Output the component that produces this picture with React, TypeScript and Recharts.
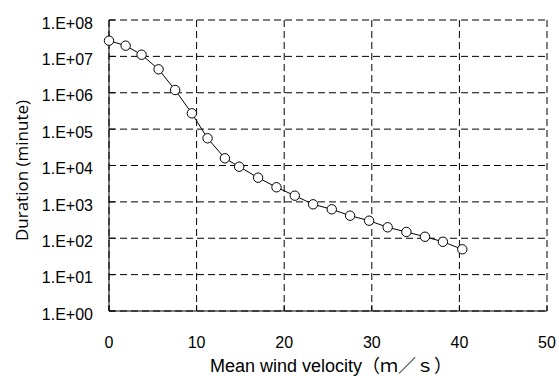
import React from "react";
import { LineChart, Line, XAxis, YAxis, CartesianGrid } from "recharts";

// wind speed (m/s)
const velocity = [
  0, 1.9, 3.72, 5.66, 7.55, 9.46, 11.25, 13.23, 14.86, 17.02, 19.12, 21.21,
  23.3, 25.43, 27.52, 29.69, 31.81, 33.95, 36.07, 38.12, 40.33,
];
// duration (minute)
const duration = [
  2.7e7, 1.97e7, 1.11e7, 4.41e6, 1.19e6, 2.72e5, 5.6e4, 1.58e4, 9270, 4620,
  2520, 1480, 857, 625, 417, 304, 200, 149, 110, 80, 49.7,
];

const xTicks = [0, 10, 20, 30, 40, 50];
const yTicks = [1, 10, 100, 1e3, 1e4, 1e5, 1e6, 1e7, 1e8];
const yTickLabels = [
  "1.E+00",
  "1.E+01",
  "1.E+02",
  "1.E+03",
  "1.E+04",
  "1.E+05",
  "1.E+06",
  "1.E+07",
  "1.E+08",
];

const data = velocity.map((v, i) => ({ v, d: duration[i] }));

const FONT = "'Liberation Sans', Arial, sans-serif";

export default function App() {
  return (
    <div style={{ position: "absolute", left: 0, top: 0, background: "#fff" }}>
      <LineChart
        width={559}
        height={376}
        data={data}
        margin={{ top: 20, right: 12, left: 10, bottom: 0 }}
      >
        <CartesianGrid
          stroke="#000"
          strokeWidth={1}
          strokeDasharray="7 4"
          horizontalValues={yTicks}
          verticalValues={xTicks}
        />
        <XAxis
          dataKey="v"
          type="number"
          domain={[0, 50]}
          ticks={xTicks}
          height={65}
          stroke="#000"
          tickSize={-6}
          tickMargin={32}
          tick={{ fill: "#000", fontSize: 16, fontFamily: FONT }}
          label={{
            content: ({ viewBox }: any) => (
              <text
                x={viewBox.x + viewBox.width / 2 + 3}
                y={viewBox.y + 61}
                textAnchor="middle"
                fill="#000"
                fontSize={18}
                fontFamily={`${FONT}, 'Noto Sans CJK JP'`}
              >
                Mean wind velocity（ｍ／ｓ）
              </text>
            ),
          }}
        />
        <YAxis
          dataKey="d"
          scale="log"
          domain={[1, 1e8]}
          ticks={yTicks}
          allowDataOverflow
          width={99}
          stroke="#000"
          tickSize={-6}
          tickMargin={22}
          tickFormatter={(t: number) => yTickLabels[yTicks.indexOf(t)]}
          tick={{ fill: "#000", fontSize: 16, fontFamily: FONT, dy: 3 }}
          label={{
            content: ({ viewBox }: any) => {
              const cx = viewBox.x + 11;
              const cy = viewBox.y + viewBox.height / 2 + 5;
              return (
                <text
                  x={cx}
                  y={cy}
                  transform={`rotate(-90 ${cx} ${cy})`}
                  textAnchor="middle"
                  dominantBaseline="central"
                  fill="#000"
                  fontSize={17}
                  fontFamily="'Open Sans', sans-serif"
                >
                  Duration (minute)
                </text>
              );
            },
          }}
        />
        <Line
          dataKey="d"
          type="linear"
          stroke="#000"
          strokeWidth={1}
          dot={{ r: 4.7, fill: "#fff", stroke: "#000", strokeWidth: 1 }}
          isAnimationActive={false}
        />
      </LineChart>
    </div>
  );
}
